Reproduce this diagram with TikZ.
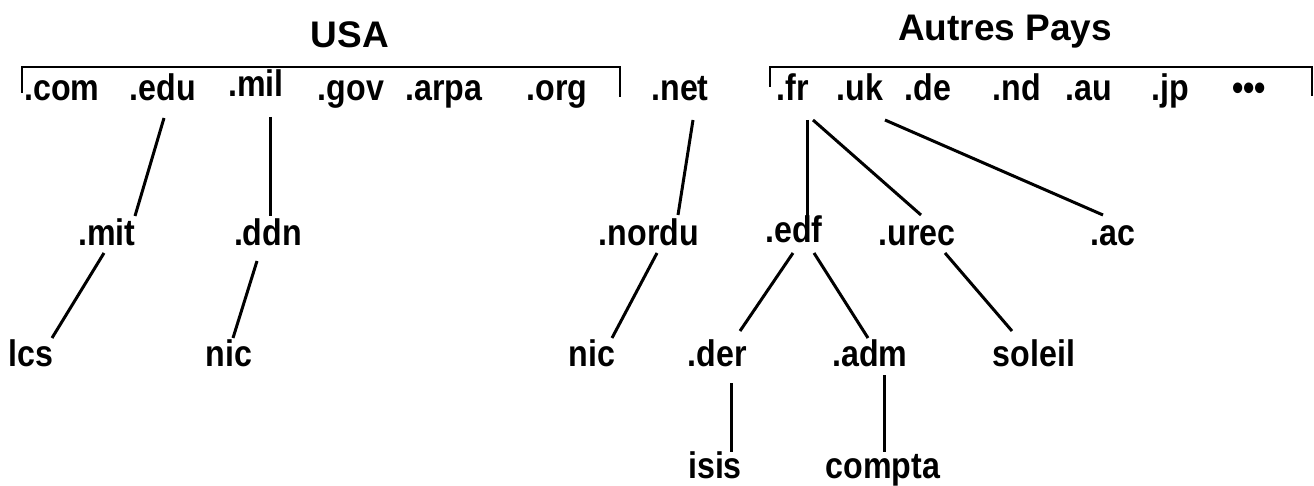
\documentclass[tikz,border=0pt]{standalone}
\usepackage{fontspec}
\setmainfont{Liberation Sans}
\newcommand{\lbtxt}[1]{\scalebox{0.87}[1]{#1}}
\begin{document}
\begin{tikzpicture}[x=1pt,y=-1pt,
  lbl/.style={anchor=base, inner sep=0pt, font=\fontsize{37}{37}\selectfont\bfseries},
  ttl/.style={anchor=base, inner sep=0pt, font=\fontsize{37}{37}\selectfont\bfseries},
  conn/.style={line width=3pt},
  brk/.style={line width=2.6pt}]
\useasboundingbox (0,0) rectangle (1314,486);
% titles
\node[ttl] (usa) at (350,48) {USA};
\node[ttl] (pays) at (1005,41) {Autres Pays};
% brackets
\draw[brk] (22,93) |- (620,67) -- (620,97);
\draw[brk] (770,87) |- (1312,67) -- (1312,96);
% row 1
\node[lbl] (com) at (62,101) {\lbtxt{.com}};
\node[lbl] (edu) at (163,101) {\lbtxt{.edu}};
\node[lbl] (mil) at (256,97) {\lbtxt{.mil}};
\node[lbl] (gov) at (351,101) {\lbtxt{.gov}};
\node[lbl] (arpa) at (444,101) {\lbtxt{.arpa}};
\node[lbl] (org) at (557,101) {\lbtxt{.org}};
\node[lbl] (net) at (680,101) {\lbtxt{.net}};
\node[lbl] (fr) at (793,101) {\lbtxt{.fr}};
\node[lbl] (uk) at (860,101) {\lbtxt{.uk}};
\node[lbl] (de) at (928,101) {\lbtxt{.de}};
\node[lbl] (nd) at (1017,101) {\lbtxt{.nd}};
\node[lbl] (au) at (1089,101) {\lbtxt{.au}};
\node[lbl] (jp) at (1170,101) {\lbtxt{.jp}};
\node[lbl] (dots) at (1249,101) {\lbtxt{•••}};
% row 2
\node[lbl] (mit) at (107,246) {\lbtxt{.mit}};
\node[lbl] (ddn) at (268,246) {\lbtxt{.ddn}};
\node[lbl] (nordu) at (649,246) {\lbtxt{.nordu}};
\node[lbl] (edf) at (794,243) {\lbtxt{.edf}};
\node[lbl] (urec) at (917,246) {\lbtxt{.urec}};
\node[lbl] (ac) at (1113,246) {\lbtxt{.ac}};
% row 3
\node[lbl] (lcs) at (31,366) {\lbtxt{lcs}};
\node[lbl] (nicA) at (229,366) {\lbtxt{nic}};
\node[lbl] (nicB) at (592,366) {\lbtxt{nic}};
\node[lbl] (der) at (717,366) {\lbtxt{.der}};
\node[lbl] (adm) at (870,366) {\lbtxt{.adm}};
\node[lbl] (soleil) at (1034,366) {\lbtxt{soleil}};
% row 4
\node[lbl] (isis) at (715,478) {\lbtxt{isis}};
\node[lbl] (compta) at (883,478) {\lbtxt{compta}};
% connectors
\draw[conn] ([shift={(1,17)}]edu.base) -- ([shift={(28,-30)}]mit.base);
\draw[conn] ([shift={(14,20)}]mil.base) -- ([shift={(2,-30)}]ddn.base);
\draw[conn] ([shift={(-3,7)}]mit.base) -- ([shift={(21,-28)}]lcs.base);
\draw[conn] ([shift={(-11,15)}]ddn.base) -- ([shift={(4,-28)}]nicA.base);
\draw[conn] ([shift={(13,19)}]net.base) -- ([shift={(29,-31)}]nordu.base);
\draw[conn] ([shift={(8,7)}]nordu.base) -- ([shift={(20,-28)}]nicB.base);
\draw[conn] ([shift={(14,19)}]fr.base) -- ([shift={(13,-27)}]edf.base);
\draw[conn] ([shift={(20,19)}]fr.base) -- ([shift={(4,-31)}]urec.base);
\draw[conn] ([shift={(25,19)}]uk.base) -- ([shift={(-10,-31)}]ac.base);
\draw[conn] ([shift={(-1,10)}]edf.base) -- ([shift={(23,-35)}]der.base);
\draw[conn] ([shift={(20,10)}]edf.base) -- ([shift={(-2,-28)}]adm.base);
\draw[conn] ([shift={(28,7)}]urec.base) -- ([shift={(-22,-35)}]soleil.base);
\draw[conn] ([shift={(14,17)}]der.base) -- ([shift={(16,-26)}]isis.base);
\draw[conn] ([shift={(14,9)}]adm.base) -- ([shift={(1,-26)}]compta.base);
\end{tikzpicture}
\end{document}
